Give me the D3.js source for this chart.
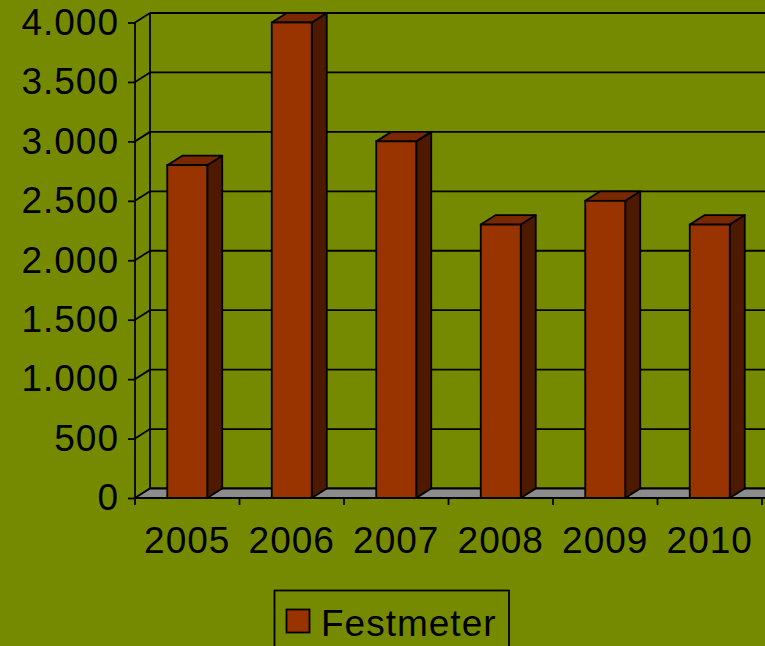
<!DOCTYPE html>
<html>
<head>
<meta charset="utf-8">
<script src="https://cdn.jsdelivr.net/npm/d3@7"></script>
<style>
  html, body { margin: 0; padding: 0; background: #768a00; }
  svg { display: block; }
</style>
</head>
<body>
<svg id="chart" width="765" height="646"></svg>
<script>
// data
const years = ["2005", "2006", "2007", "2008", "2009", "2010"];
const festmeter = [2800, 4000, 3000, 2300, 2500, 2300];
const yTicks = [0, 500, 1000, 1500, 2000, 2500, 3000, 3500, 4000];
const seriesName = "Festmeter";

const W = 765, H = 646;
const plotLeft = 135, plotRight = 762, plotBottom = 498, plotTop = 22.5;
const dx = 15, dy = -9.5; // depth offset of the back wall
const font = "Liberation Sans, Arial, sans-serif";
const fontSize = 37;
const sw = 1.8;

const svg = d3.select("#chart");
const fmt = d3.formatLocale({ decimal: ",", thousands: ".", grouping: [3], currency: ["", ""] }).format(",d");

const y = d3.scaleLinear().domain([0, 4000]).range([plotBottom, plotTop]);
const x = d3.scaleBand().domain(years).range([plotLeft, plotRight])
  .paddingInner(1 - 40 / 104.5).paddingOuter((1 - 40 / 104.5) / 2);

// back wall gridlines
svg.append("g").selectAll("line").data(yTicks).join("line")
  .attr("x1", plotLeft + dx).attr("x2", W + 5)
  .attr("y1", d => y(d) + dy).attr("y2", d => y(d) + dy)
  .attr("stroke", "#000").attr("stroke-width", sw);

// left wall
const wall = svg.append("g").attr("stroke", "#000").attr("stroke-width", sw);
wall.append("line").attr("x1", plotLeft + dx).attr("x2", plotLeft + dx)
  .attr("y1", y(4000) + dy).attr("y2", y(0) + dy);
wall.selectAll("line.diag").data(yTicks).join("line").attr("class", "diag")
  .attr("x1", plotLeft).attr("y1", d => y(d))
  .attr("x2", plotLeft + dx).attr("y2", d => y(d) + dy);

// floor
svg.append("path")
  .attr("d", `M${plotLeft},${y(0)} L${plotLeft + dx},${y(0) + dy} L${W + 5},${y(0) + dy} L${W + 5},${y(0)} Z`)
  .attr("fill", "#8c8c8c").attr("stroke", "#000").attr("stroke-width", sw);

// bars
const bars = svg.append("g").selectAll("g").data(years).join("g");
bars.each(function (yr, i) {
  const g = d3.select(this);
  const x0 = x(yr), x1 = x0 + x.bandwidth();
  const yt = y(festmeter[i]), yb = y(0);
  g.append("path")
    .attr("d", `M${x1},${yt} L${x1 + dx},${yt + dy} L${x1 + dx},${yb + dy} L${x1},${yb} Z`)
    .attr("fill", "#4d1a00").attr("stroke", "#000").attr("stroke-width", sw).attr("stroke-linejoin", "round");
  g.append("path")
    .attr("d", `M${x0},${yt} L${x0 + dx},${yt + dy} L${x1 + dx},${yt + dy} L${x1},${yt} Z`)
    .attr("fill", "#7a2800").attr("stroke", "#000").attr("stroke-width", sw).attr("stroke-linejoin", "round");
  g.append("rect")
    .attr("x", x0).attr("y", yt).attr("width", x1 - x0).attr("height", yb - yt)
    .attr("fill", "#993300").attr("stroke", "#000").attr("stroke-width", sw);
});

// front y axis
const yAxis = svg.append("g").attr("transform", `translate(${plotLeft},0)`)
  .call(d3.axisLeft(y).tickValues(yTicks).tickSize(7).tickPadding(9).tickFormat(fmt));
yAxis.select(".domain").attr("stroke-width", sw).attr("d", `M0,${y(4000)}V${y(0)}`);
yAxis.selectAll(".tick line").attr("stroke-width", sw);
yAxis.selectAll(".tick text")
  .attr("font-family", font).attr("font-size", fontSize)
  .attr("letter-spacing", 1).attr("fill", "#000");

// front x axis
const xTickPos = years.map(yr => x(yr) - x.step() * x.paddingInner() / 2).concat([plotRight]);
const xAxis = svg.append("g");
xAxis.append("line").attr("x1", plotLeft).attr("x2", W + 5).attr("y1", plotBottom).attr("y2", plotBottom)
  .attr("stroke", "#000").attr("stroke-width", sw);
xAxis.selectAll("line.tick").data(xTickPos).join("line").attr("class", "tick")
  .attr("x1", d => d).attr("x2", d => d).attr("y1", plotBottom).attr("y2", plotBottom + 7)
  .attr("stroke", "#000").attr("stroke-width", sw);
xAxis.selectAll("text").data(years).join("text")
  .attr("x", d => x(d) + x.bandwidth() / 2).attr("y", 553)
  .attr("text-anchor", "middle")
  .attr("font-family", font).attr("font-size", fontSize)
  .attr("letter-spacing", 1).text(d => d);

// legend
const lg = svg.append("g");
lg.append("rect").attr("x", 274.5).attr("y", 590.5).attr("width", 234.5).attr("height", 70)
  .attr("fill", "none").attr("stroke", "#000").attr("stroke-width", sw);
lg.append("rect").attr("x", 286.5).attr("y", 609.5).attr("width", 23).attr("height", 23)
  .attr("fill", "#993300").attr("stroke", "#000").attr("stroke-width", sw);
lg.append("text").attr("x", 321).attr("y", 636)
  .attr("font-family", font).attr("font-size", fontSize)
  .attr("letter-spacing", 1).text(seriesName);
</script>
</body>
</html>
